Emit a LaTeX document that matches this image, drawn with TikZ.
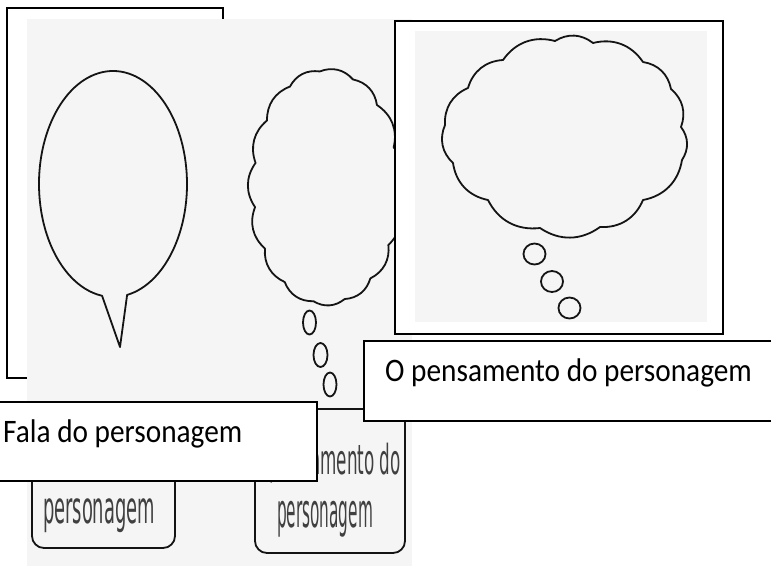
\documentclass[tikz,border=0pt]{standalone}
\usepackage{fontspec}
\usepackage{graphicx}
\setmainfont{Carlito}
\newfontfamily\scanfont{DejaVu Sans Condensed}
\definecolor{photo}{RGB}{245,245,245}
\begin{document}
\begin{tikzpicture}[x=1pt,y=-1pt,
  frame/.style={draw=black, line width=2pt},
  inkline/.style={draw=black!92, line width=1.8pt, line join=round, line cap=round},
  boxlabel/.style={font=\fontsize{29.3}{34}\selectfont, inner sep=0pt, anchor=base west},
  scanlabel/.style={inner sep=0pt, text=black!75},
 ]
\useasboundingbox (0,0) rectangle (771,566);
\fill[white] (0,0) rectangle (771,566);
% left outline frame (mostly covered by the photo)
\draw[frame] (7,8) rectangle (223,378);
% scanned photo on the left
\fill[photo] (27,19) rectangle (412,566);
% speech bubble
\draw[inkline] ({113+74*cos(79)},{184+113*sin(79)})
  arc[start angle=79, end angle=-261.5, x radius=74, y radius=113]
  -- (120,347) -- cycle;
% thought cloud (left photo)
\draw[inkline] ({326+72*cos(-95)},{187+116*sin(-95)})
  \foreach \a in {-68,-45,-20,5,30,52,75,100,125,148,170,192,215,240,265}
  { to[bend left=35] ({326+72*cos(\a)},{187+116*sin(\a)}) } -- cycle;
\draw[inkline] (309.5,322.5) ellipse[x radius=6.5, y radius=12];
\draw[inkline] (320.5,355) ellipse[x radius=7, y radius=12];
\draw[inkline] (330,384.5) ellipse[x radius=6.5, y radius=12];
% scanned label boxes
\draw[inkline, rounded corners=12pt] (32,409) -- (32,548) -- (175,548) -- (175,409);
\draw[inkline, rounded corners=12pt] (255,409) rectangle (405,553);
\node[scanlabel, anchor=east] (scanA) at (401,463) {\resizebox*{131pt}{40pt}{\scanfont pensamento do}};
\node[scanlabel] (scanB) at (325,519) {\resizebox*{96pt}{36pt}{\scanfont personagem}};
\node[scanlabel] (scanC) at (99,516) {\resizebox*{112pt}{34pt}{\scanfont personagem}};
% right framed picture
\draw[frame, fill=white] (395,21) rectangle (723,334);
\fill[photo] (415,31) rectangle (707,322);
\draw[inkline] (503,60)
  \foreach \x/\y in {555/41, 593/43, 643/62, 671/89, 681/127, 682/160, 643/200,
                     600/227, 540/228, 488/200, 453/163, 445/125, 468/88, 503/60}
  { to[bend left=35] (\x,\y) } -- cycle;
\draw[inkline] (534.5,254) ellipse[x radius=11, y radius=10.5];
\draw[inkline] (552,281.5) ellipse[x radius=11, y radius=10.5];
\draw[inkline] (569.5,308) ellipse[x radius=11, y radius=10.5];
% text boxes
\draw[frame, fill=white] (364,341) rectangle (780,421);
\draw[frame, fill=white] (-10,402) rectangle (317,481);
\node[boxlabel] (pens) at (385,381) {\scalebox{1}[1.12]{O pensamento do personagem}};
\node[boxlabel] (fala) at (3,442) {\scalebox{1}[1.12]{Fala do personagem}};
\end{tikzpicture}
\end{document}
